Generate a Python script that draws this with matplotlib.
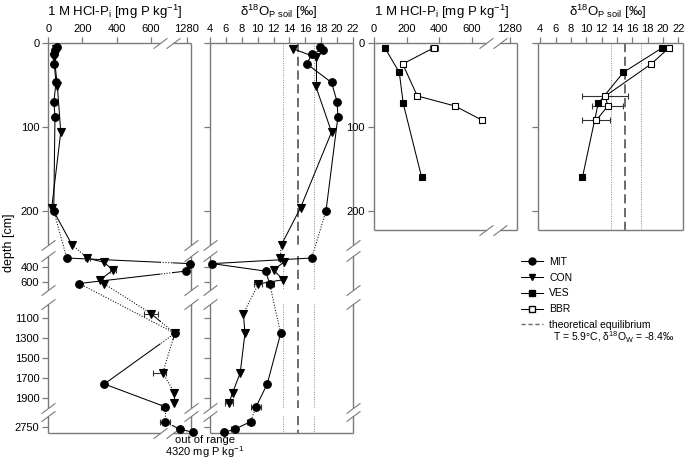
import numpy as np
import matplotlib
matplotlib.use("Agg")
import matplotlib.pyplot as plt
from matplotlib.path import Path
from matplotlib.lines import Line2D

plt.rcParams['font.family'] = ['Liberation Sans', 'DejaVu Sans']
plt.rcParams['mathtext.default'] = 'regular'

# ------------------------------------------------------------------ data
mit_depth = [5, 8, 13, 25, 47, 70, 88, 200, 280, 355, 455, 620, 1253, 1760, 1987, 2697, 2773, 2803]
mit_hcl = [53, 39, 35, 35, 45, 33, 39, 32, 108, 1300, 1274, 181, 1211, 328, 860, 860, 1241, 4320]
mit_hcl_err = [0, 0, 0, 0, 0, 0, 0, 0, 0, 0, 0, 0, 0, 0, 150, 200, 0, 0]
mit_d18o = [17.8, 18.2, 16.8, 16.2, 19.3, 20.0, 20.1, 18.6, 16.8, 4.3, 11.0, 11.5, 12.9, 11.2, 9.8, 9.1, 7.1, 5.8]
mit_d18o_err = [0, 0, 0, 0, 0, 0, 0, 0, 0, 0.3, 0, 0.5, 0, 0, 0.6, 0.5, 0.4, 0]

con_depth = [7, 17, 51, 106, 196, 240, 283, 335, 440, 570, 625, 1055, 1253, 1650, 1845, 1947]
con_hcl = [45, 35, 53, 73, 20, 138, 229, 324, 379, 304, 328, 600, 1211, 765, 1208, 1208]
con_hcl_err = [0, 0, 0, 0, 0, 0, 15, 0, 20, 0, 0, 40, 0, 150, 0, 0]
con_d18o = [14.5, 17.3, 17.3, 19.3, 15.4, 13.0, 12.8, 13.3, 12.0, 13.2, 10.1, 8.2, 8.4, 7.8, 6.85, 6.4]
con_d18o_err = [0, 0, 0, 0, 0, 0, 0.3, 0, 0, 0, 0.5, 0, 0, 0, 0, 0.5]

ves_depth = [6, 35, 72, 160]
ves_hcl = [67, 155, 179, 292]
ves_d18o = [19.85, 14.83, 11.55, 9.5]

bbr_depth = [5.6, 25, 63, 75, 92]
bbr_hcl = [367, 176, 265, 496, 663]
bbr_hcl_err = [22, 0, 0, 0, 0]
bbr_d18o = [20.8, 18.45, 12.5, 12.8, 11.3]
bbr_d18o_err = [0, 0, 3.0, 2.0, 1.8]

eq_center, eq_low, eq_high = 15.1, 13.2, 17.1

hcl_ticks = [0, 200, 400, 600, 1280]
d18o_ticks = [4, 6, 8, 10, 12, 14, 16, 18, 20, 22]
depth_ticks_left = [0, 100, 200, 400, 600, 1100, 1300, 1500, 1700, 1900, 2750]
depth_ticks_right = [0, 100, 200]

# ------------------------------------------------------------------ layout helpers
FW, FH = 685, 461
fig = plt.figure(figsize=(FW / 100, FH / 100), dpi=100)
GRAY = '#7a7a7a'

DEPTH_KNOTS = [0, 240, 250, 700, 960, 2000, 2640, 2810]
DEPTH_POS = [43, 244.6, 255.75, 289.5, 304, 408, 416, 433]
LEFT_SEGS = [(0, 240), (250, 700), (960, 2000), (2640, 2810)]
RIGHT_SEGS = [(0, 222.6)]


def d_fwd(d):
    return np.interp(d, DEPTH_KNOTS, DEPTH_POS)


def d_inv(p):
    return np.interp(p, DEPTH_POS, DEPTH_KNOTS)


def make_xscale(vk, pk):
    def f(v):
        return np.interp(v, vk, pk)

    def g(p):
        return np.interp(p, pk, vk)
    return f, g


x1_f, x1_g = make_xscale([0, 654, 1200, 1305, 1330], [0, 111.7, 124.7, 142.7, 146.2])
x3_f, x3_g = make_xscale([0, 686, 1219, 1321, 1350], [0, 112, 126, 142.7, 146.0])
BREAK1 = (654, 1200)
BREAK3 = (686, 1219)


def add_ax(x0, x1, y0, y1):
    return fig.add_axes([x0 / FW, 1 - y1 / FH, (x1 - x0) / FW, (y1 - y0) / FH])


SLASH = Path([(-1, -0.75), (1, 0.75)], [Path.MOVETO, Path.LINETO])
SOLID = dict(color='black', lw=0.75, ls='-', zorder=3, clip_on=False)
DOT = dict(color='black', lw=0.75, ls=(0, (1, 1.6)), zorder=3, clip_on=False)


def seg_of(d, segs):
    for i, (a, b) in enumerate(segs):
        if d <= b:
            return i
    return len(segs) - 1


def connect(ax, xs, ds, segs, xbreak=None, xf=None, xg=None):
    for i in range(len(xs) - 1):
        xa0, xb0, d1, d2 = xs[i], xs[i + 1], ds[i], ds[i + 1]
        if seg_of(d1, segs) != seg_of(d2, segs):
            ax.plot([xa0, xb0], [d1, d2], **DOT)
            continue
        if xbreak is None:
            ax.plot([xa0, xb0], [d1, d2], **SOLID)
            continue
        p1, p2 = float(xf(xa0)), float(xf(xb0))
        ts = [0.0, 1.0]
        for b in xbreak:
            if (xa0 - b) * (xb0 - b) < 0:
                ts.append((float(xf(b)) - p1) / (p2 - p1))
        ts.sort()
        for ta, tb in zip(ts[:-1], ts[1:]):
            pa, pb = p1 + ta * (p2 - p1), p1 + tb * (p2 - p1)
            mid = float(xg(0.5 * (pa + pb)))
            style = DOT if xbreak[0] < mid < xbreak[1] else SOLID
            ax.plot([float(xg(pa)), float(xg(pb))],
                    [d1 + ta * (d2 - d1), d1 + tb * (d2 - d1)], **style)


def markers(ax, xs, ds, errs, marker, ms, mfc='black'):
    xs = np.asarray(xs, float)
    ds = np.asarray(ds, float)
    if errs is not None:
        errs = np.asarray(errs, float)
        m = errs > 0
        if m.any():
            ax.errorbar(xs[m], ds[m], xerr=errs[m], fmt='none', ecolor='#333333',
                        elinewidth=0.8, capsize=2.5, capthick=0.8, zorder=4, clip_on=False)
    ax.plot(xs, ds, ls='none', marker=marker, ms=ms, mfc=mfc, mec='black', mew=0.8,
            zorder=5, clip_on=False)


def frame(ax, dsegs, xsegs):
    ty = ax.get_yaxis_transform()
    tx = ax.get_xaxis_transform()
    for (a, b) in dsegs:
        for xa in (0, 1):
            ax.plot([xa, xa], [a, b], transform=ty, color=GRAY, lw=1.0, clip_on=False,
                    solid_capstyle='butt', zorder=2)
    for (a, b) in xsegs:
        for ya in (0, 1):
            ax.plot([a, b], [ya, ya], transform=tx, color=GRAY, lw=1.0, clip_on=False,
                    solid_capstyle='butt', zorder=2)
    for i, (a, b) in enumerate(dsegs):
        ends = ([a] if i > 0 else []) + ([b] if i < len(dsegs) - 1 else [])
        for e in ends:
            for xa in (0, 1):
                ax.plot([xa], [e], transform=ty, marker=SLASH, ms=10, mec=GRAY, mew=0.8,
                        clip_on=False, zorder=2)
    for i, (a, b) in enumerate(xsegs):
        ends = ([a] if i > 0 else []) + ([b] if i < len(xsegs) - 1 else [])
        for e in ends:
            for ya in (0, 1):
                ax.plot([e], [ya], transform=tx, marker=SLASH, ms=10, mec=GRAY, mew=0.8,
                        clip_on=False, zorder=2)


def setup(ax, xlim, xticks, dmax, dticks, ylabels, xfuncs=None):
    if xfuncs is not None:
        ax.set_xscale('function', functions=xfuncs)
    ax.set_yscale('function', functions=(d_fwd, d_inv))
    ax.set_xlim(*xlim)
    ax.set_ylim(dmax, 0)
    for s in ax.spines.values():
        s.set_visible(False)
    ax.xaxis.tick_top()
    ax.set_xticks(xticks)
    ax.set_xticklabels([str(t) for t in xticks])
    ax.set_yticks(dticks)
    if ylabels:
        ax.set_yticklabels([str(t) for t in dticks])
    else:
        ax.set_yticklabels([])
    ax.tick_params(axis='both', direction='out', length=4, width=0.9, color=GRAY,
                   labelsize=8, pad=2.5)
    ax.tick_params(axis='y', right=False)
    ax.minorticks_off()
    ax.patch.set_visible(False)


def ref_lines(ax, segs):
    for (a, b) in segs:
        ax.plot([eq_center, eq_center], [a, b], color='#444444', lw=1.1,
                ls=(0, (6, 3)), zorder=1)
        for v in (eq_low, eq_high):
            ax.plot([v, v], [a, b], color='#888888', lw=0.7, ls=(0, (1, 1.5)), zorder=1)


# ------------------------------------------------------------------ panel 1: HCl-Pi, MIT/CON
ax1 = add_ax(48.3, 191, 43, 433)
setup(ax1, (0, 1305), hcl_ticks, 2810, depth_ticks_left, True, (x1_f, x1_g))
frame(ax1, LEFT_SEGS, [(0, BREAK1[0]), (BREAK1[1], 1305)])
cap1 = 1322
mit_x1 = np.minimum(mit_hcl, cap1)
con_x1 = np.minimum(con_hcl, cap1)
connect(ax1, mit_x1, mit_depth, LEFT_SEGS, BREAK1, x1_f, x1_g)
connect(ax1, con_x1, con_depth, LEFT_SEGS, BREAK1, x1_f, x1_g)
markers(ax1, con_x1, con_depth, con_hcl_err, 'v', 5.5)
markers(ax1, mit_x1, mit_depth, mit_hcl_err, 'o', 5.5)

# ------------------------------------------------------------------ panel 2: d18O, MIT/CON
ax2 = add_ax(210, 353, 43, 433)
setup(ax2, (4, 22), d18o_ticks, 2810, depth_ticks_left, False)
frame(ax2, LEFT_SEGS, [(4, 22)])
ref_lines(ax2, LEFT_SEGS)
connect(ax2, mit_d18o, mit_depth, LEFT_SEGS)
connect(ax2, con_d18o, con_depth, LEFT_SEGS)
markers(ax2, con_d18o, con_depth, con_d18o_err, 'v', 5.5)
markers(ax2, mit_d18o, mit_depth, mit_d18o_err, 'o', 5.5)

# ------------------------------------------------------------------ panel 3: HCl-Pi, VES/BBR
ax3 = add_ax(374, 516.7, 43, 230)
setup(ax3, (0, 1321), hcl_ticks, 222.6, depth_ticks_right, True, (x3_f, x3_g))
frame(ax3, RIGHT_SEGS, [(0, BREAK3[0]), (BREAK3[1], 1321)])
connect(ax3, ves_hcl, ves_depth, RIGHT_SEGS, BREAK3, x3_f, x3_g)
connect(ax3, bbr_hcl, bbr_depth, RIGHT_SEGS, BREAK3, x3_f, x3_g)
markers(ax3, ves_hcl, ves_depth, None, 's', 5)
markers(ax3, bbr_hcl, bbr_depth, bbr_hcl_err, 's', 5, mfc='white')

# ------------------------------------------------------------------ panel 4: d18O, VES/BBR
ax4 = add_ax(538.3, 683, 43, 230)
setup(ax4, (3.75, 22.6), d18o_ticks, 222.6, depth_ticks_right, False)
frame(ax4, RIGHT_SEGS, [(3.75, 22.6)])
ref_lines(ax4, RIGHT_SEGS)
connect(ax4, ves_d18o, ves_depth, RIGHT_SEGS)
connect(ax4, bbr_d18o, bbr_depth, RIGHT_SEGS)
markers(ax4, ves_d18o, ves_depth, None, 's', 5)
markers(ax4, bbr_d18o, bbr_depth, bbr_d18o_err, 's', 5, mfc='white')

# ------------------------------------------------------------------ texts
hcl_title = '1 M HCl-P$_i$ [mg P kg$^{-1}$]'
d18o_title = '\u03b4$^{18}$O$_{P\\ soil}$ [\u2030]'
for xc, t in [(115, hcl_title), (279, d18o_title), (442, hcl_title), (608, d18o_title)]:
    fig.text(xc / FW, 1 - 12 / FH, t, ha='center', va='center', fontsize=9.5)

fig.text(9 / FW, 1 - 243 / FH, 'depth [cm]', rotation=90, ha='center', va='center', fontsize=9)

fig.text(205 / FW, 1.5 / FH,
         'out of range\n%d mg P kg$^{-1}$' % max(mit_hcl), ha='center', va='bottom',
         fontsize=8, linespacing=0.9)

handles = [
    Line2D([], [], color='black', lw=0.75, marker='o', ms=5, mfc='black', mec='black'),
    Line2D([], [], color='black', lw=0.75, marker='v', ms=5, mfc='black', mec='black'),
    Line2D([], [], color='black', lw=0.75, marker='s', ms=4.5, mfc='black', mec='black'),
    Line2D([], [], color='black', lw=0.75, marker='s', ms=4.5, mfc='white', mec='black'),
    Line2D([], [], color='#666666', lw=1.0, ls=(0, (3, 2))),
]
labels = ['MIT', 'CON', 'VES', 'BBR', 'theoretical equilibrium']
fig.legend(handles, labels, loc='upper left', bbox_to_anchor=(521 / FW, 1 - 257 / FH),
           frameon=False, fontsize=7.5, handlelength=2.1, handletextpad=0.6,
           labelspacing=0.55, borderpad=0, borderaxespad=0)
fig.text(553 / FW, 1 - 337.5 / FH, 'T = 5.9\u00b0C, \u03b4$^{18}$O$_W$ = -8.4\u2030',
         ha='left', va='center', fontsize=7.5)

fig.savefig('out.png', dpi=100)
